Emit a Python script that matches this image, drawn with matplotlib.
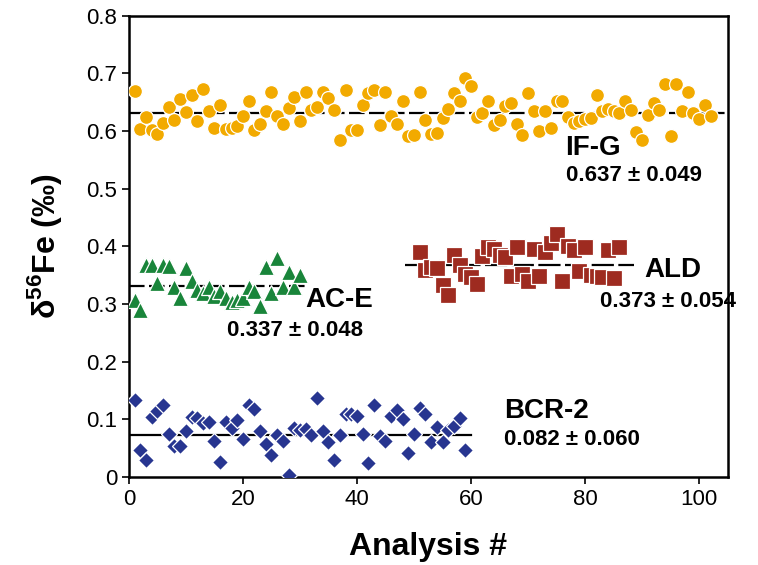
import numpy as np
import matplotlib.pyplot as plt

plt.rcParams['font.family'] = ['Liberation Sans', 'DejaVu Sans']
plt.rcParams['mathtext.fontset'] = 'custom'
plt.rcParams['mathtext.bf'] = 'Liberation Sans:bold'
plt.rcParams['mathtext.rm'] = 'Liberation Sans'

# IF-G (circles)
ifg_y = [0.669, 0.604, 0.624, 0.602, 0.595, 0.614, 0.642, 0.619, 0.656, 0.633,
         0.663, 0.617, 0.673, 0.634, 0.605, 0.645, 0.604, 0.606, 0.609, 0.626,
         0.653, 0.602, 0.613, 0.634, 0.668, 0.626, 0.613, 0.640, 0.659, 0.618,
         0.667, 0.636, 0.642, 0.667, 0.657, 0.637, 0.585, 0.672, 0.602, 0.602,
         0.645, 0.666, 0.672, 0.611, 0.667, 0.627, 0.613, 0.653, 0.591, 0.594,
         0.668, 0.619, 0.595, 0.597, 0.623, 0.638, 0.666, 0.652, 0.692, 0.678,
         0.624, 0.631, 0.652, 0.611, 0.620, 0.643, 0.648, 0.613, 0.594, 0.666,
         0.634, 0.601, 0.634, 0.605, 0.652, 0.653, 0.624, 0.614, 0.617, 0.621,
         0.623, 0.663, 0.634, 0.638, 0.634, 0.631, 0.652, 0.637, 0.598, 0.585,
         0.628, 0.649, 0.636, 0.681, 0.592, 0.682, 0.634, 0.668, 0.631, 0.621,
         0.646, 0.627]
ifg_x = np.arange(1, len(ifg_y) + 1)

# AC-E (triangles)
ace_y = [0.307, 0.290, 0.368, 0.368, 0.337, 0.368, 0.366, 0.330, 0.310, 0.362,
         0.339, 0.325, 0.319, 0.330, 0.313, 0.322, 0.310, 0.304, 0.307, 0.310,
         0.330, 0.322, 0.296, 0.365, 0.319, 0.380, 0.330, 0.356, 0.330, 0.351]
ace_x = np.arange(1, len(ace_y) + 1)

# ALD (squares)
ald_y = [0.391, 0.359, 0.365, 0.363, 0.333, 0.316, 0.385, 0.368, 0.352, 0.347,
         0.334, 0.384, 0.398, 0.395, 0.385, 0.382, 0.348, 0.398, 0.352, 0.339,
         0.396, 0.348, 0.391, 0.406, 0.421, 0.340, 0.400, 0.394, 0.358, 0.398,
         0.351, 0.349, 0.346, 0.394, 0.345, 0.398]
ald_x = np.arange(51, 51 + len(ald_y))

# BCR-2 (diamonds)
bcr_y = [0.134, 0.047, 0.030, 0.104, 0.115, 0.125, 0.075, 0.054, 0.053, 0.079,
         0.104, 0.102, 0.093, 0.096, 0.063, 0.026, 0.095, 0.085, 0.099, 0.066,
         0.125, 0.118, 0.079, 0.057, 0.038, 0.073, 0.063, 0.003, 0.085, 0.082,
         0.083, 0.072, 0.137, 0.079, 0.061, 0.030, 0.073, 0.109, 0.109, 0.106,
         0.075, 0.024, 0.125, 0.071, 0.063, 0.106, 0.116, 0.100, 0.042, 0.075,
         0.119, 0.109, 0.061, 0.087, 0.060, 0.082, 0.089, 0.102, 0.047]
bcr_x = np.arange(1, len(bcr_y) + 1)

# mean lines: level, x start, x end
means = {
    'IF-G': (0.632, 0, 105),
    'AC-E': (0.331, 0, 31.5),
    'ALD': (0.368, 48.5, 88.5),
    'BCR-2': (0.072, 0, 60),
}

fig = plt.figure(figsize=(7.58, 5.65), dpi=100)
ax = fig.add_axes([0.170, 0.156, 0.790, 0.816])

# lines behind markers
ax.plot([means['IF-G'][1], means['IF-G'][2]], [means['IF-G'][0]] * 2,
        color='black', lw=1.6, dashes=(7, 2), zorder=1)
ax.plot([means['AC-E'][1], means['AC-E'][2]], [means['AC-E'][0]] * 2,
        color='black', lw=1.6, dashes=(7, 2), zorder=1)
ax.plot([means['ALD'][1], means['ALD'][2]], [means['ALD'][0]] * 2,
        color='black', lw=1.6, dashes=(10, 2), zorder=1)
ax.plot([means['BCR-2'][1], means['BCR-2'][2]], [means['BCR-2'][0]] * 2,
        color='black', lw=1.6, zorder=1)

ax.plot(ifg_x, ifg_y, 'o', ms=10, color='#F2AA00', mec='white', mew=0.9, zorder=3)
ax.plot(ace_x, ace_y, '^', ms=11, color='#19853A', mec='white', mew=0.9, zorder=3)
ax.plot(ald_x, ald_y, 's', ms=11.5, color='#9E2B20', mec='white', mew=0.9, zorder=3)
ax.plot(bcr_x, bcr_y, 'D', ms=8.5, color='#273590', mec='white', mew=0.9, zorder=3)

# labels
ax.text(76.5, 0.571, 'IF-G', fontsize=20, fontweight='bold', va='center')
ax.text(76.7, 0.523, '0.637 ± 0.049', fontsize=16, fontweight='bold', va='center')
ax.text(90.4, 0.359, 'ALD', fontsize=20, fontweight='bold', va='center')
ax.text(82.6, 0.304, '0.373 ± 0.054', fontsize=16, fontweight='bold', va='center')
ax.text(31.0, 0.307, 'AC-E', fontsize=20, fontweight='bold', va='center')
ax.text(17.2, 0.254, '0.337 ± 0.048', fontsize=16, fontweight='bold', va='center')
ax.text(65.8, 0.115, 'BCR-2', fontsize=20, fontweight='bold', va='center')
ax.text(65.8, 0.064, '0.082 ± 0.060', fontsize=16, fontweight='bold', va='center')

ax.set_xlim(0, 105)
ax.set_ylim(0, 0.8)
ax.set_xticks([0, 20, 40, 60, 80, 100])
ax.set_yticks(np.arange(0, 0.81, 0.1))
ax.set_yticklabels(['0', '0.1', '0.2', '0.3', '0.4', '0.5', '0.6', '0.7', '0.8'])
ax.tick_params(direction='out', length=5, width=1.2, labelsize=16)
for s in ax.spines.values():
    s.set_linewidth(1.8)

ax.set_xlabel('Analysis #', fontsize=23, fontweight='bold', labelpad=16)
ax.set_ylabel('δ$^{\\mathbf{56}}$Fe (‰)', fontsize=23, fontweight='bold', labelpad=16)

fig.savefig('out.png', dpi=100)
